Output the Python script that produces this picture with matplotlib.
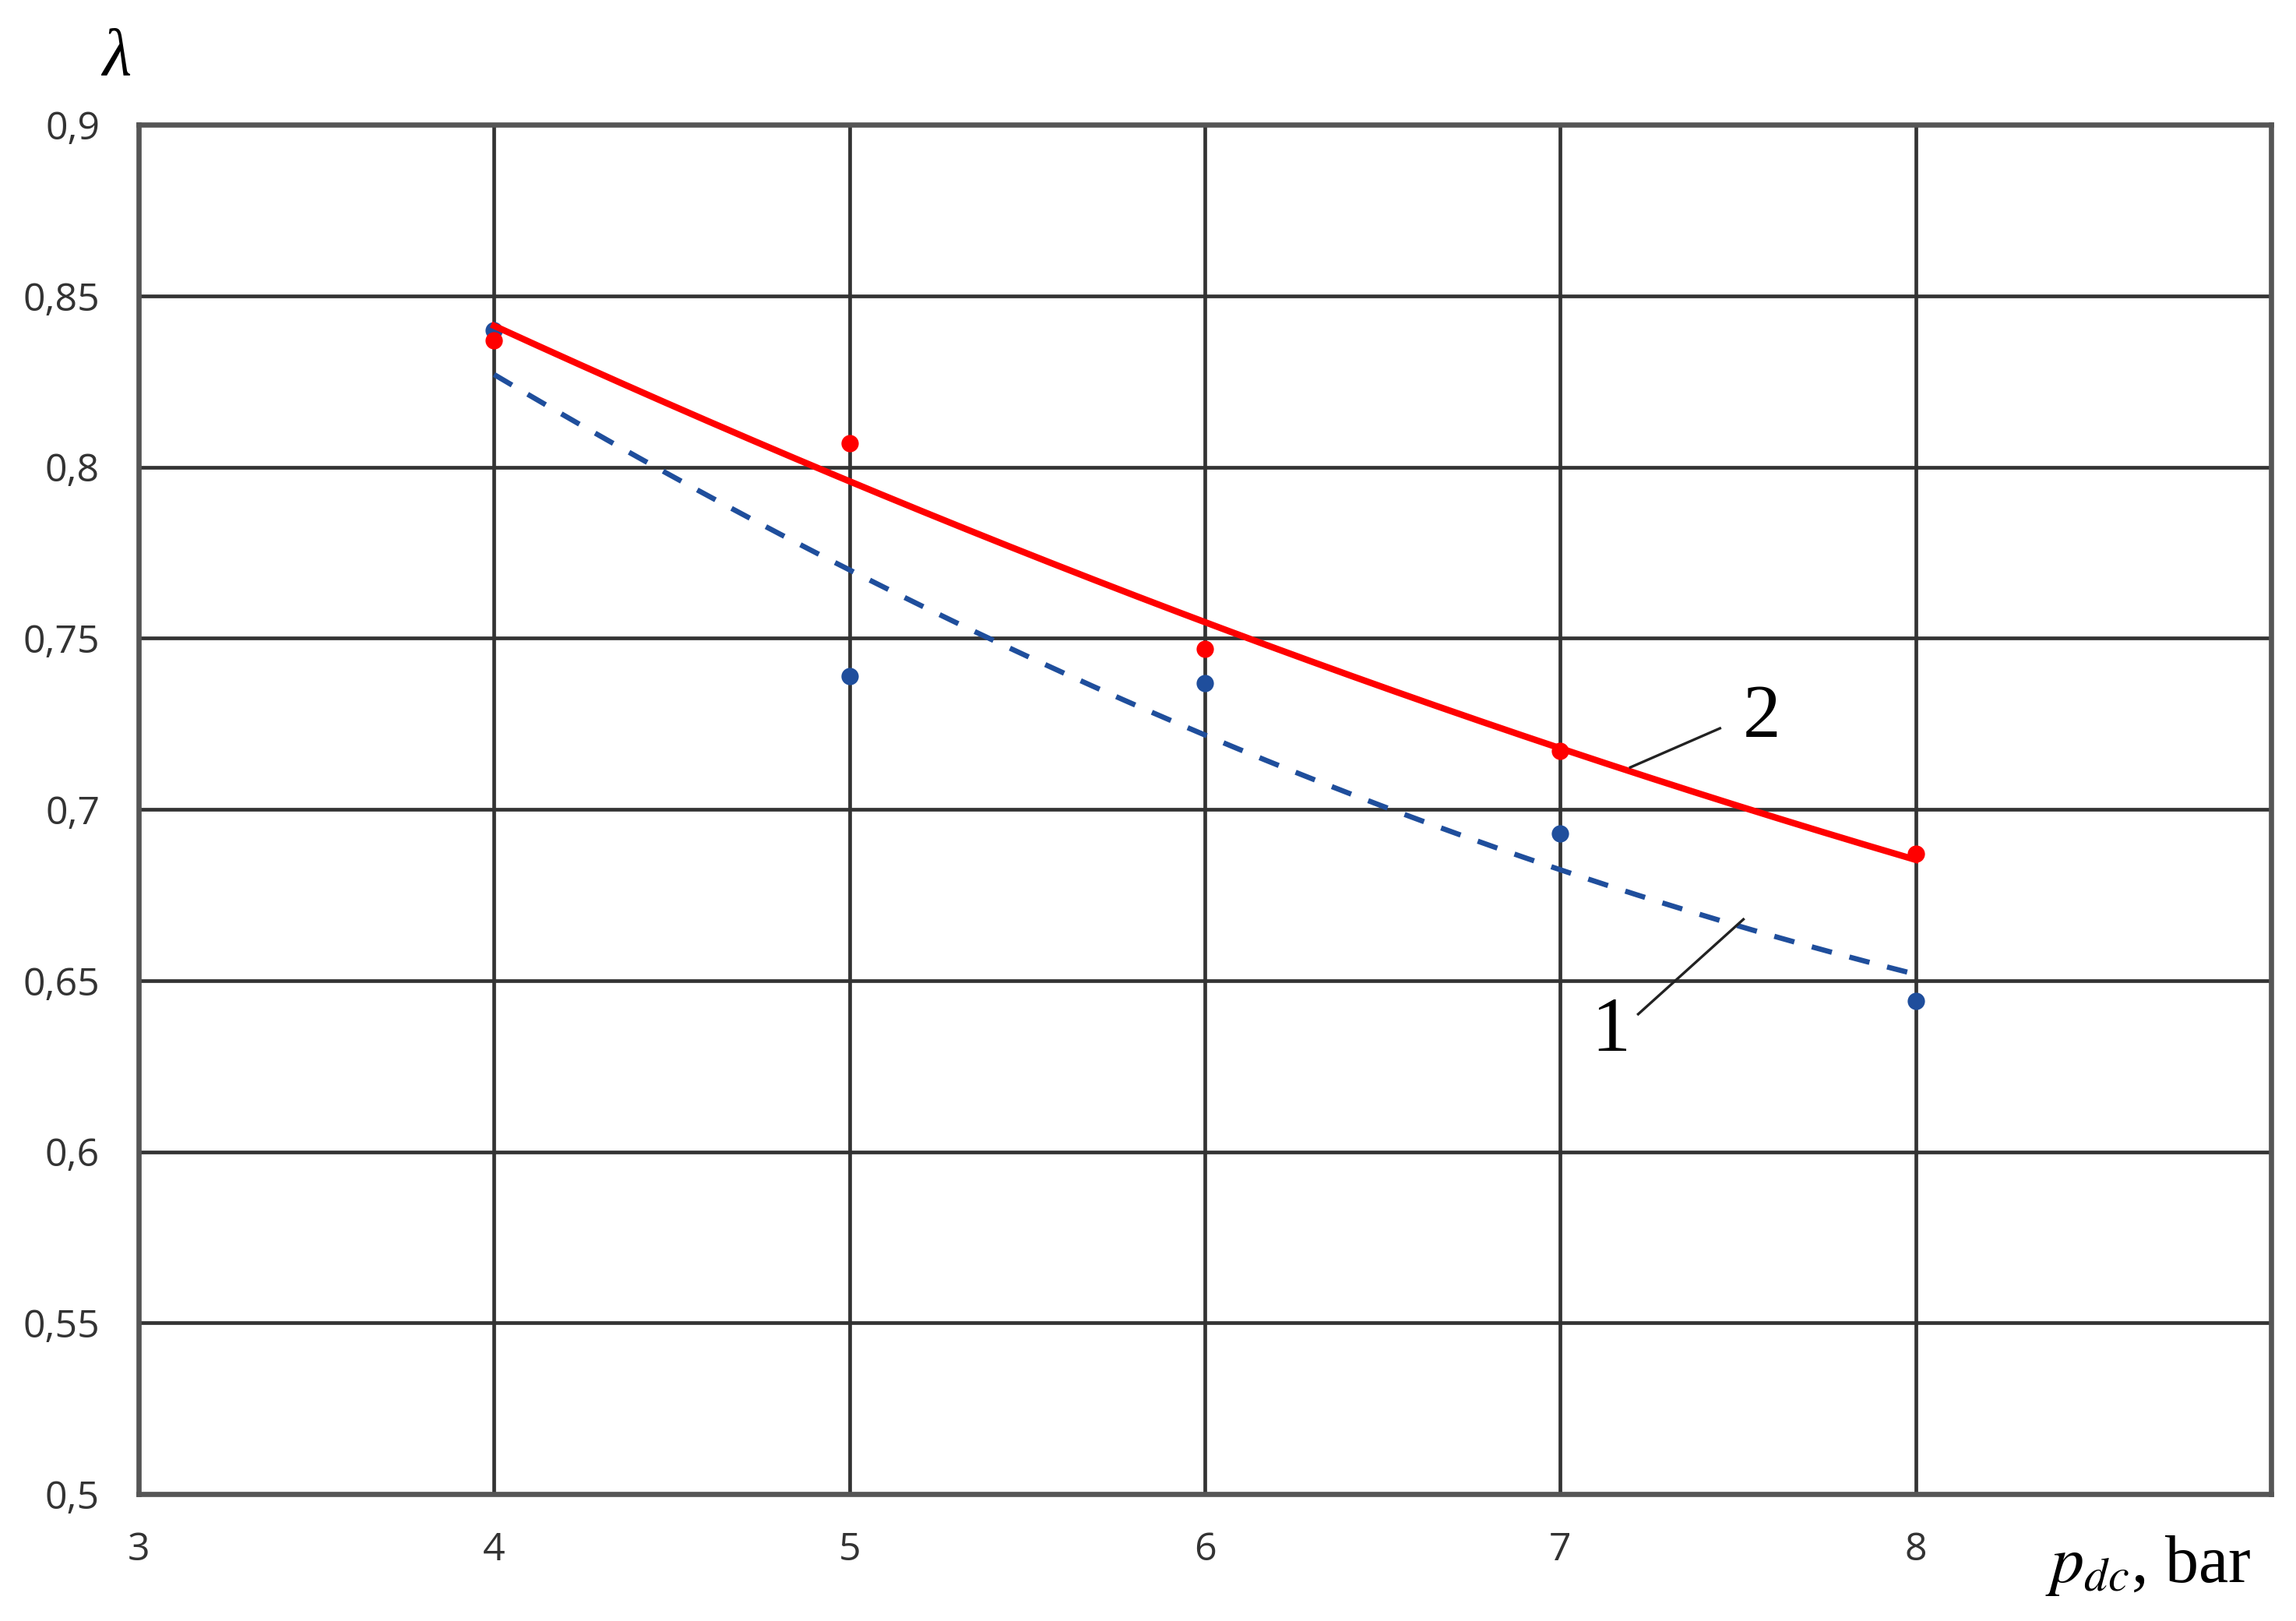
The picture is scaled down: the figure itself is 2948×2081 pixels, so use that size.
import numpy as np
import matplotlib
matplotlib.use('Agg')
import matplotlib.pyplot as plt

# data
pressure = [4, 5, 6, 7, 8]
lam_1 = [0.840, 0.739, 0.737, 0.693, 0.644]   # blue points, curve 1
lam_2 = [0.837, 0.807, 0.747, 0.717, 0.687]   # red points, curve 2

x_ticks = [3, 4, 5, 6, 7, 8]
y_ticks = [0.5, 0.55, 0.6, 0.65, 0.7, 0.75, 0.8, 0.85, 0.9]
y_labels = ['0,5', '0,55', '0,6', '0,65', '0,7', '0,75', '0,8', '0,85', '0,9']

blue = '#1f4e9c'
red = '#ff0000'
grid_col = '#333333'

fig = plt.figure(figsize=(14.74, 10.405), dpi=200)
ax = fig.add_axes([0.0604, 0.0783, 0.9288, 0.8447])

ax.set_xlim(3, 9)
ax.set_ylim(0.5, 0.9)
ax.set_xticks(x_ticks)
ax.set_yticks(y_ticks)
ax.set_yticklabels(y_labels)
ax.tick_params(length=0, labelsize=18, labelcolor='#333333')
ax.tick_params(axis='y', pad=18)
ax.tick_params(axis='x', pad=17)
for lab in ax.get_xticklabels() + ax.get_yticklabels():
    lab.set_family('Open Sans')

# grid lines, vertical also at 9 but the frame covers it
ax.grid(True, color=grid_col, lw=1.7, zorder=0)
for sp in ax.spines.values():
    sp.set_color('#555555')
    sp.set_linewidth(2.4)

# trend lines (2nd order fit, like the spreadsheet trendline)
xs = np.linspace(4, 8, 200)
fit_1 = np.polyfit(pressure, lam_1, 2)
fit_2 = np.polyfit(pressure, lam_2, 2)

ax.plot(xs, np.polyval(fit_1, xs), color=blue, lw=2.4, dashes=(4, 3.5), zorder=3)
ax.plot(pressure, lam_1, 'o', color=blue, ms=8, mec='none', zorder=4)
ax.plot(xs, np.polyval(fit_2, xs), color=red, lw=3.0, zorder=5)
ax.plot(pressure, lam_2, 'o', color=red, ms=8, mec='none', zorder=6)

# curve numbers with leader lines
ax.plot([7.197, 7.449], [0.7123, 0.7237], color='#222222', lw=1.2, zorder=7)
ax.plot([7.219, 7.515], [0.6402, 0.6679], color='#222222', lw=1.2, zorder=7)
ax.text(7.567, 0.7266, '2', fontsize=35, family='Liberation Serif',
        ha='center', va='center', zorder=8)
ax.text(7.142, 0.6349, '1', fontsize=36, family='Liberation Serif',
        ha='center', va='center', zorder=8)

# axis titles
fig.text(150 / 2948, 1 - 75 / 2081, 'λ', fontsize=31, family='Liberation Serif',
         style='italic', ha='center', va='center')
fig.text(2758 / 2948, 1 - 2010 / 2081, r'$p_{dc}$, bar', fontsize=31,
         family='Liberation Serif', ha='center', va='center',
         math_fontfamily='stix')

fig.savefig('out.png', dpi=200, facecolor='white')
